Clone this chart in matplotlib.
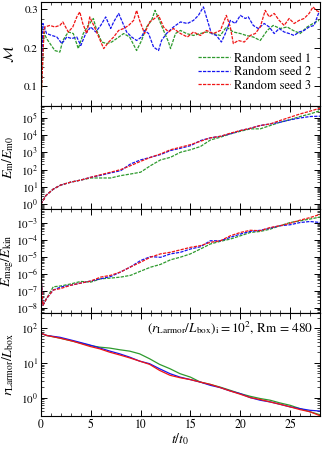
import numpy as np
import matplotlib
matplotlib.use("Agg")
import matplotlib.pyplot as plt
from matplotlib.ticker import MultipleLocator, LogLocator, NullFormatter

plt.rcParams['font.family'] = ['STIXGeneral', 'DejaVu Serif']
plt.rcParams['mathtext.fontset'] = 'stix'
plt.rcParams['font.size'] = 9

labels = ['Random seed 1', 'Random seed 2', 'Random seed 3']
colors = ['#2e9a2e', '#1515f0', '#f01515']

# --- Mach number (panel 1) ---
t_mach_1 = [0, 0.3, 0.57, 1.4, 1.9, 2.2, 2.75, 3.25, 3.75, 4.25, 4.75, 5.26, 5.6, 6.1, 6.6, 7.1, 7.6,
            8.3, 8.9, 9.6, 10.1, 10.6, 11.1, 11.45, 11.8, 12.3, 12.8, 13.0, 13.5, 14, 14.6, 15.3, 16,
            16.6, 17.3, 18, 18.6, 19.3, 20, 20.6, 21.3, 22, 22.7, 23.3, 24, 24.7, 25.3, 26, 26.7, 27.3, 27.9]
mach_1 = [0.05, 0.24, 0.224, 0.193, 0.189, 0.219, 0.241, 0.237, 0.198, 0.237, 0.258, 0.276, 0.245, 0.215,
          0.211, 0.215, 0.224, 0.237, 0.228, 0.193, 0.219, 0.254, 0.271, 0.297, 0.276, 0.245, 0.215, 0.198,
          0.237, 0.245, 0.237, 0.232, 0.237, 0.241, 0.237, 0.232, 0.254, 0.241, 0.237, 0.232, 0.228, 0.219,
          0.245, 0.258, 0.250, 0.254, 0.245, 0.237, 0.254, 0.263, 0.271]
t_mach_2 = [0, 0.2, 0.57, 1.1, 1.6, 2.1, 2.6, 3.1, 3.6, 4.0, 4.5, 5.0, 5.5, 6.0, 6.5, 7.0, 7.3, 7.8, 8.1,
            8.6, 9.1, 9.6, 10.1, 10.4, 10.8, 11.3, 11.8, 12.1, 12.6, 13.3, 14.0, 14.7, 15.3, 15.8, 16.3,
            16.6, 17.1, 17.6, 18.1, 18.5, 19.0, 19.5, 20.0, 20.5, 20.8, 21.3, 21.8, 22.4, 22.9, 23.4, 23.9,
            24.4, 24.9, 25.4, 25.9, 26.4, 26.9, 27.4, 27.9]
mach_2 = [0.05, 0.263, 0.237, 0.232, 0.228, 0.211, 0.228, 0.224, 0.228, 0.206, 0.237, 0.254, 0.241, 0.258,
          0.280, 0.250, 0.267, 0.289, 0.271, 0.241, 0.228, 0.219, 0.228, 0.245, 0.237, 0.202, 0.193, 0.219,
          0.237, 0.254, 0.267, 0.263, 0.271, 0.284, 0.306, 0.280, 0.237, 0.232, 0.215, 0.237, 0.271, 0.263,
          0.284, 0.276, 0.280, 0.258, 0.250, 0.263, 0.254, 0.237, 0.250, 0.241, 0.237, 0.232, 0.241, 0.245,
          0.254, 0.258, 0.293]
t_mach_3 = [0, 0.3, 0.4, 0.9, 1.4, 1.9, 2.2, 2.75, 3.2, 3.6, 3.9, 4.2, 4.6, 4.9, 5.3, 5.8, 6.3, 6.8, 7.3,
            7.8, 8.3, 8.8, 9.3, 9.6, 9.9, 10.4, 10.9, 11.4, 11.8, 12.3, 12.8, 13.3, 14.0, 14.7, 15.3, 16,
            16.6, 17.3, 18, 18.6, 19, 19.3, 19.8, 20.4, 21, 21.5, 22, 22.5, 22.9, 23.4, 23.9, 24.4, 24.9,
            25.4, 25.9, 26.4, 26.9, 27.3, 27.6, 27.9]
mach_3 = [0.05, 0.24, 0.254, 0.258, 0.254, 0.258, 0.267, 0.241, 0.254, 0.280, 0.293, 0.263, 0.237, 0.280,
          0.258, 0.228, 0.198, 0.215, 0.228, 0.245, 0.250, 0.258, 0.271, 0.297, 0.271, 0.237, 0.267, 0.276,
          0.284, 0.254, 0.241, 0.250, 0.237, 0.228, 0.241, 0.232, 0.245, 0.237, 0.245, 0.284, 0.254, 0.211,
          0.219, 0.215, 0.232, 0.237, 0.254, 0.297, 0.280, 0.289, 0.271, 0.258, 0.276, 0.263, 0.271, 0.276,
          0.289, 0.306, 0.297, 0.293]

# --- common time grid for panel 2 ---
t_grid = [0, 0.5, 1.25, 2, 3, 4, 5, 6, 7, 8, 9, 10, 11, 12, 13, 14, 15, 16, 17, 18, 19, 20,
          21, 22, 23, 24, 25, 26, 27, 28]

# magnetic energy growth E_m / E_m0
em_1 = [1.0, 3.2, 7.6, 13, 19, 25, 33, 33, 33, 45, 56, 71, 170, 363, 513, 1000, 1400, 2140, 5100,
        7400, 11500, 16200, 22400, 22400, 34700, 54000, 76000, 115000, 162000, 250000]
em_2 = [1.0, 3.2, 7.6, 13, 19, 25, 36, 47, 65, 87, 214, 363, 513, 741, 1260, 1700, 2400, 4700, 6800,
        8300, 11500, 17800, 24000, 34700, 43000, 54000, 74000, 95000, 115000, 120000]
em_3 = [1.0, 3.2, 7.6, 13, 19, 25, 36, 51, 71, 100, 170, 300, 510, 800, 1400, 1950, 2750, 4300, 6800,
        8300, 12600, 17800, 24000, 35000, 43000, 68000, 105000, 162000, 234000, 350000]

# magnetic to kinetic energy ratio
t_ratio = [0, 0.2, 0.57, 1.24, 2, 3, 4, 5, 6, 7, 8, 9, 10, 11, 12, 13, 14, 15, 16, 17, 18, 19, 20,
           21, 22, 23, 24, 25, 26, 27, 28]
ratio_1 = [1e-6, 1.4e-8, 3.5e-8, 1.7e-7, 1.9e-7, 2.5e-7, 3.5e-7, 3.2e-7, 5e-7, 5.5e-7, 6.3e-7, 8e-7,
           1.4e-6, 2.4e-6, 3.5e-6, 6.5e-6, 9.3e-6, 1.45e-5, 2.8e-5, 5.5e-5, 7.9e-5, 1.07e-4, 1.66e-4,
           2.6e-4, 3.0e-4, 4.1e-4, 6.5e-4, 1e-3, 1.26e-3, 1.6e-3, 2.1e-3]
ratio_2 = [1e-6, 1.4e-8, 3.5e-8, 1.1e-7, 1.65e-7, 2.1e-7, 2.8e-7, 3.7e-7, 5e-7, 6.8e-7, 1.26e-6,
           2.5e-6, 5.9e-6, 1e-5, 9.1e-6, 1.45e-5, 1.8e-5, 2.8e-5, 3.8e-5, 8.5e-5, 8.5e-5, 1.35e-4,
           2.1e-4, 3.0e-4, 3.5e-4, 4.7e-4, 6.5e-4, 7.4e-4, 1e-3, 1.15e-3, 1e-3]
ratio_3 = [1e-6, 1.4e-8, 3.5e-8, 1.1e-7, 1.35e-7, 2.1e-7, 2.8e-7, 3.7e-7, 6.3e-7, 8e-7, 1.26e-6,
           2.5e-6, 4.7e-6, 9.3e-6, 1.45e-5, 1.8e-5, 2.5e-5, 3.5e-5, 4.4e-5, 6.9e-5, 8.5e-5, 1.66e-4,
           2.6e-4, 3.5e-4, 3.3e-4, 5.1e-4, 6.5e-4, 9.1e-4, 1.38e-3, 1.95e-3, 3.0e-3]

# Larmor radius
t_larmor = [0, 0.57, 1.9, 3.25, 4.9, 5.9, 6.9, 7.9, 8.9, 9.9, 10.9, 11.9, 12.95, 13.95, 15, 16, 17,
            18, 19, 20, 21, 22, 23, 24, 25, 26, 27, 28]
larmor_1 = [72, 62, 52, 42, 32, 28.5, 26.8, 24, 21.9, 18.3, 13.2, 9.1, 6.8, 4.9, 3.9, 2.8, 2.4, 2.0,
            1.62, 1.3, 1.09, 0.94, 0.84, 0.70, 0.60, 0.48, 0.39, 0.32]
larmor_2 = [72, 62, 55, 44, 33, 27, 22, 18.3, 14.7, 11.3, 9.5, 6.8, 4.9, 3.9, 3.3, 2.8, 2.26, 1.94,
            1.55, 1.3, 1.0, 0.84, 0.75, 0.64, 0.54, 0.48, 0.43, 0.41]
larmor_3 = [72, 62, 52, 42, 30, 25.5, 20.4, 17, 14, 11.3, 9.1, 6.1, 4.4, 3.75, 3.3, 2.8, 2.4, 1.94,
            1.55, 1.25, 1.0, 0.88, 0.75, 0.64, 0.54, 0.45, 0.39, 0.30]

fig, axes = plt.subplots(4, 1, figsize=(3.22, 4.5), dpi=100, sharex=True)
fig.subplots_adjust(left=0.127, right=0.994, top=0.995, bottom=0.075, hspace=0)
dash = (0, (2.6, 1.0))
label_fs = 10

ax = axes[0]
for tt, yy, c, lab in zip([t_mach_1, t_mach_2, t_mach_3], [mach_1, mach_2, mach_3], colors, labels):
    ax.plot(tt, yy, color=c, lw=0.9, ls=dash, label=lab)
ax.set_ylim(0.05, 0.318)
ax.yaxis.set_major_locator(MultipleLocator(0.1))
ax.yaxis.set_minor_locator(MultipleLocator(0.025))
ax.set_ylabel(r'$\mathcal{M}$', fontsize=label_fs)
ax.legend(loc='lower right', frameon=False, handlelength=2.6, handletextpad=0.3,
          labelspacing=0.15, borderaxespad=0.3, bbox_to_anchor=(1.0, 0.05))

ax = axes[1]
for yy, c in zip([em_1, em_2, em_3], colors):
    ax.plot(t_grid, yy, color=c, lw=0.9, ls=dash)
ax.set_yscale('log')
ax.set_ylim(0.52, 4.8e5)
ax.set_ylabel(r'$E_\mathrm{m}/E_\mathrm{m0}$', fontsize=label_fs)

ax = axes[2]
for yy, c in zip([ratio_1, ratio_2, ratio_3], colors):
    ax.plot(t_ratio, yy, color=c, lw=0.9, ls=dash)
ax.set_yscale('log')
ax.set_ylim(5.1e-9, 6.0e-3)
ax.set_ylabel(r'$E_\mathrm{mag}/E_\mathrm{kin}$', fontsize=label_fs)

ax = axes[3]
for yy, c in zip([larmor_1, larmor_2, larmor_3], colors):
    ax.plot(t_larmor, yy, color=c, lw=0.9)
ax.set_yscale('log')
ax.set_ylim(0.29, 280)
ax.set_ylabel(r'$r_\mathrm{Larmor}/L_\mathrm{box}$', fontsize=label_fs)
ax.text(0.975, 0.86, r'$(r_\mathrm{Larmor}/L_\mathrm{box})_\mathrm{i} = 10^2$, Rm = 480',
        transform=ax.transAxes, ha='right', va='center', fontsize=9.5)
ax.set_xlabel(r'$t/t_0$', labelpad=0, fontsize=label_fs)

for ax in axes:
    ax.set_xlim(0, 28)
    ax.xaxis.set_major_locator(MultipleLocator(5))
    ax.xaxis.set_minor_locator(MultipleLocator(1))
    if ax.get_yscale() == 'log':
        ax.yaxis.set_major_locator(LogLocator(base=10, numticks=20))
        ax.yaxis.set_minor_locator(LogLocator(base=10, subs=np.arange(2, 10), numticks=20))
        ax.yaxis.set_minor_formatter(NullFormatter())
    ax.tick_params(which='both', direction='in', top=True, right=True)
    ax.tick_params(axis='y', labelsize=8)
    ax.tick_params(axis='x', labelsize=8.5)
    ax.tick_params(which='major', length=4, width=0.7, pad=2)
    ax.tick_params(which='minor', length=2, width=0.5)
    ax.yaxis.set_label_coords(-0.088, 0.5)
    for s in ax.spines.values():
        s.set_linewidth(0.8)

fig.savefig('out.png', dpi=100)
